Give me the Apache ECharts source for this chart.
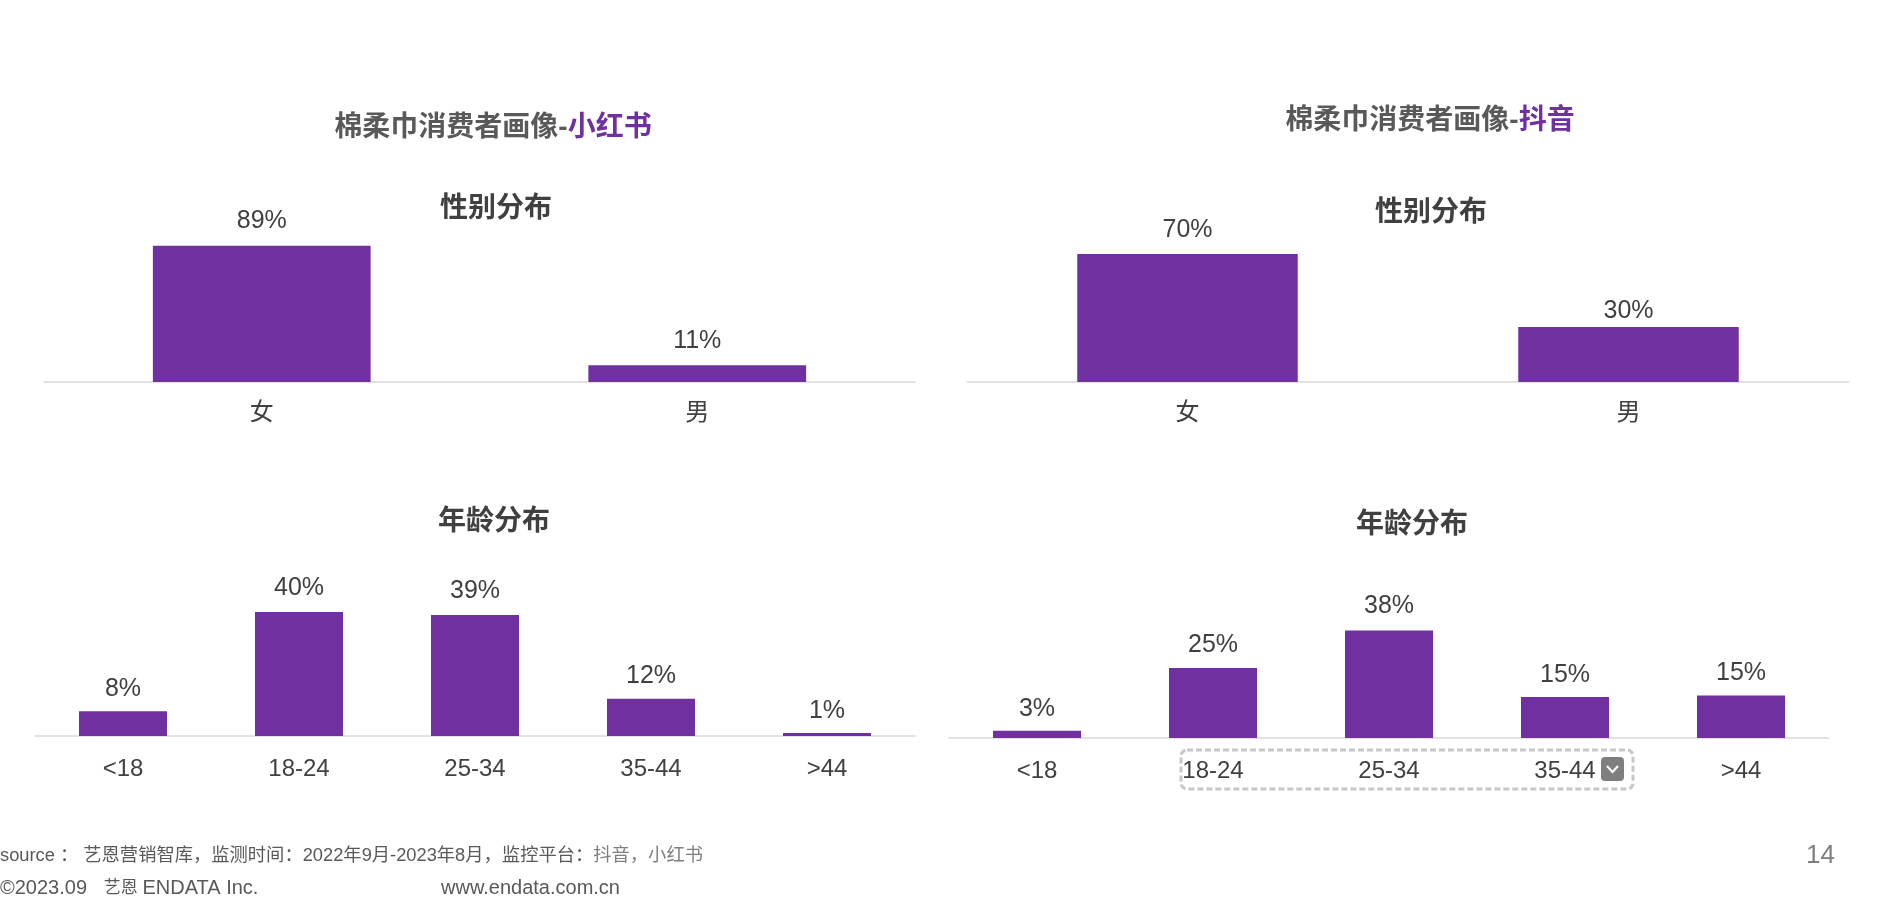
<!DOCTYPE html>
<html>
<head>
<meta charset="utf-8">
<style>html,body{margin:0;padding:0;background:#fff}#c{width:1896px;height:902px}</style>
<script src="https://cdn.jsdelivr.net/npm/echarts@6/dist/echarts.min.js"></script>
</head>
<body>
<div id="c"></div>
<script>
const genderCategories = ['女', '男'];
const ageCategories = ['<18', '18-24', '25-34', '35-44', '>44'];
const xhsGender = [89, 11];
const dyGender = [70, 30];
const xhsAge = [8, 40, 39, 12, 1];
const dyAge = [2.6, 25, 38.4, 14.6, 15.2];

const PURPLE = '#7030A0';
const FONT = '"Liberation Sans","Noto Sans CJK SC",sans-serif';
const panels = [
  {cats: genderCategories, vals: xhsGender, max: 100, left: 44, width: 871, top: 229, height: 153, margin: 19, gaps: [12, 12]},
  {cats: genderCategories, vals: dyGender, max: 100, left: 967, width: 882, top: 199, height: 183, margin: 19, gaps: [11, 3]},
  {cats: ageCategories, vals: xhsAge, max: 50, left: 35, width: 880, top: 581, height: 155, margin: 21, gaps: [10, 11, 11, 10, 9]},
  {cats: ageCategories, vals: dyAge, max: 50, left: 949, width: 880, top: 598, height: 140, margin: 21, gaps: [9, 10, 12, 10, 10]}
];
const mainTitle = (x, y, name) => ({
  text: '{a|棉柔巾消费者画像-}{b|' + name + '}', left: x, top: y, textAlign: 'center', textVerticalAlign: 'middle', padding: 0,
  textStyle: {rich: {
    a: {fontSize: 28, fontWeight: 'bold', color: '#595959', fontFamily: FONT},
    b: {fontSize: 28, fontWeight: 'bold', color: PURPLE, fontFamily: FONT}
  }}
});
const subTitle = (x, y, text) => ({
  text, left: x, top: y, textAlign: 'center', textVerticalAlign: 'middle', padding: 0,
  textStyle: {fontSize: 28, fontWeight: 'bold', color: '#404040', fontFamily: FONT}
});
const chart = echarts.init(document.getElementById('c'), null, {renderer: 'canvas'});
chart.setOption({
  backgroundColor: '#ffffff',
  animation: false,
  title: [
    mainTitle(493, 128.5, '小红书'), mainTitle(1430, 121.5, '抖音'),
    subTitle(496, 209.5, '性别分布'), subTitle(1431, 213, '性别分布'),
    subTitle(494, 522.5, '年龄分布'), subTitle(1412, 525.5, '年龄分布')
  ],
  grid: panels.map(p => ({left: p.left, width: p.width, top: p.top, height: p.height, containLabel: false})),
  xAxis: panels.map((p, i) => ({
    type: 'category', gridIndex: i, data: p.cats,
    axisTick: {show: false},
    axisLine: {lineStyle: {color: '#D9D9D9', width: 1.5}},
    axisLabel: {color: '#404040', fontSize: 24, fontFamily: FONT, margin: p.margin, interval: 0}
  })),
  yAxis: panels.map((p, i) => ({type: 'value', gridIndex: i, min: 0, max: p.max, show: false, splitLine: {show: false}})),
  series: panels.map((p, i) => ({
    type: 'bar', xAxisIndex: i, yAxisIndex: i, barWidth: '50%',
    data: p.vals.map((v, k) => ({value: v, label: {distance: p.gaps[k]}})),
    itemStyle: {color: PURPLE},
    label: {show: true, position: 'top', color: '#404040', fontSize: 25, fontFamily: FONT,
      formatter: d => Math.round(d.value) + '%'}
  })),
  graphic: [
    {type: 'rect', shape: {x: 1181, y: 750, width: 452, height: 39, r: 6},
      style: {fill: 'none', stroke: '#C8C8C8', lineWidth: 3, lineDash: [6, 3]}},
    {type: 'rect', shape: {x: 1601, y: 757, width: 23, height: 24, r: 4}, style: {fill: '#7F7F7F'}},
    {type: 'polyline', shape: {points: [[1607, 766], [1612.5, 772], [1618, 766]]},
      style: {stroke: '#FFFFFF', lineWidth: 2, fill: 'none'}},
    {type: 'text', x: 0, y: 856, style: {
      text: '{a|source ： 艺恩营销智库，监测时间：2022年9月-2023年8月，监控平台：}{b|抖音，小红书}',
      verticalAlign: 'middle',
      rich: {a: {fontSize: 18.3, fill: '#595959', fontFamily: FONT}, b: {fontSize: 18.3, fill: '#7F7F7F', fontFamily: FONT}}
    }},
    {type: 'text', x: 0, y: 888, style: {
      text: '{l|©2023.09   }{c|艺恩 }{l|ENDATA Inc.}',
      verticalAlign: 'middle',
      rich: {l: {fontSize: 20, fill: '#595959', fontFamily: FONT}, c: {fontSize: 17, fill: '#595959', fontFamily: FONT}}
    }},
    {type: 'text', x: 441, y: 888, style: {text: 'www.endata.com.cn', fontSize: 20, fill: '#595959', fontFamily: FONT, verticalAlign: 'middle'}},
    {type: 'text', x: 1806, y: 856, style: {text: '14', fontSize: 26, fill: '#7F7F7F', fontFamily: FONT, verticalAlign: 'middle'}}
  ]
});
</script>
</body>
</html>
